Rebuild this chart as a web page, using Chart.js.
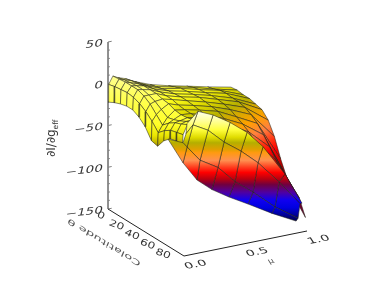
<!DOCTYPE html>
<html>
<head>
<meta charset="utf-8">
<style>
  html, body { margin: 0; padding: 0; background: #fff; }
  canvas { display: block; }
</style>
<script src="https://cdn.jsdelivr.net/npm/chart.js@4/dist/chart.umd.min.js"></script>
</head>
<body>
<canvas id="myChart" width="374" height="299"></canvas>
<script>
// axis ticks
const zTicks = [50, 0, -50, -100, -150];
const zMinorTicks = [40, 30, 20, 10, -10, -20, -30, -40, -60, -70, -80, -90, -110, -120, -130, -140];
const thetaTicks = [0, 20, 40, 60, 80];
const muTicks = ['0.0', '0.5', '1.0'];
const thetaMax = 98;

// far part of the surface: one row of z for each colatitude, one column for each mu
const backMu = [0, 0.005, 0.04, 0.08, 0.14, 0.22, 0.34, 0.49, 0.64, 0.81, 1];
const backTheta = [0, 8, 16, 24, 32, 40, 48, 56, 64, 72, 80, 88, 96];
const backZ = [
    [-22, -1, 8, 5, 2, -4, -11, -17, -22, -28, -34],
    [-18, 1, 9, 7, 4, -2, -9, -14, -19, -26, -33],
    [-15, 2, 10, 8, 5, 0, -7, -11, -17, -23, -34],
    [-13, 3, 10, 9, 7, 1, -5, -10, -16, -22, -34],
    [-13, 2, 10, 9, 7, 2, -4, -9, -15, -23, -36],
    [-17, -1, 7, 7, 7, 2, -3, -8, -15, -23, -38],
    [-24, -6, 2, 4, 5, 2, -3, -9, -16, -25, -46],
    [-36, -13, -6, -1, 4, 0, -4, -10, -18, -29, -61],
    [-38, -22, -14, -6, 1, -1, -5, -11, -22, -35, -83],
    [-27, -15, -7, -4, 0, -1, -7, -15, -26, -44, -101],
    [-20, -10, -2, -1, 1, -1, -10, -19, -31, -54, -109],
    [-18, -8, 1, 3, 3, -2, -12, -24, -38, -65, -116],
    [-18, -6, 5, 6, 6, -2, -15, -29, -46, -78, -135]
];

// near fold of the surface: one column for each colatitude, four mesh nodes in each
const frontTheta = [68, 72, 76, 80, 84, 88, 92, 96];
const frontMu = [
    [0.214, 0.206, 0.181, 0.059],
    [0.278, 0.237, 0.189, 0.156],
    [0.375, 0.334, 0.269, 0.245],
    [0.488, 0.439, 0.39, 0.341],
    [0.601, 0.552, 0.503, 0.454],
    [0.706, 0.665, 0.624, 0.584],
    [0.859, 0.811, 0.778, 0.754],
    [0.972, 0.956, 0.94, 0.924]
];
const frontZ = [
    [-15, -27, -37, -29],
    [0, -15, -40, -58],
    [-5, -22, -56, -79],
    [-15, -37, -66, -91],
    [-28, -49, -84, -101],
    [-46, -64, -98, -111],
    [-81, -89, -118, -125],
    [-117, -117, -134, -137]
];

// colour bands of each sheet, [offset, colour]
const backBands = [
    [0, '#ffff98'], [0.147, '#ffff58'], [0.265, '#ffff20'], [0.382, '#dcd800'], [0.47, '#b8b000'],
    [0.53, '#d8a800'], [0.6, '#ffa000'], [0.676, '#ff8040'], [0.753, '#ff3010'], [0.81, '#ff0000'], [0.91, '#b00000'], [1, '#700030']
];
const edgeBands = [
    [0, '#ffff90'], [0.32, '#ffff50'], [0.66, '#ffff28'], [0.81, '#e8e400'], [0.92, '#b8a800'], [1, '#d89000']
];
const frontBands = [
    [0, '#ffffe8'], [0.09, '#ffff90'], [0.16, '#ffff40'], [0.23, '#e0dc00'], [0.28, '#b4ae00'],
    [0.34, '#e0a000'], [0.37, '#ff9a10'], [0.44, '#ff9050'], [0.5, '#ff4020'], [0.55, '#ff0000'],
    [0.61, '#b80010'], [0.66, '#700040'], [0.73, '#5000a0'], [0.8, '#1000f0'], [0.87, '#0000e0'], [0.94, '#000090'], [1, '#000040']
];

// view of the 3D box on the page
function project(mu, theta, z) {
    const t = theta / thetaMax;
    return {
        x: 108 + 123 * mu + 76 * t,
        y: 209 - 25 * mu + 47 * t - 0.835 * (z + 150)
    };
}

const canvas = document.getElementById('myChart');
const ctx = canvas.getContext('2d');

function bandGradient(x0, y0, x1, y1, bands) {
    const g = ctx.createLinearGradient(x0, y0, x1, y1);
    bands.forEach(b => g.addColorStop(b[0], b[1]));
    return g;
}
const backFill = bandGradient(108, 80.2, 184.5, 231.5, backBands);
const edgeFill = bandGradient(0, 76, 0, 150, edgeBands);
const frontFill = bandGradient(0, 112, 0, 222, frontBands);

const datasets = [];

function addLine(points, color, width) {
    datasets.push({
        data: points,
        showLine: true,
        fill: false,
        borderColor: color,
        borderWidth: width,
        pointRadius: 0,
        tension: 0,
        order: -datasets.length
    });
}

function addCell(a, b, c, d, fill) {
    datasets.push({
        data: [a, b, c, d, a],
        showLine: true,
        fill: 'shape',
        backgroundColor: fill,
        borderColor: 'rgba(30,30,20,0.75)',
        borderWidth: 0.7,
        pointRadius: 0,
        tension: 0,
        order: -datasets.length
    });
}

// axes
const zAxisColor = '#808080';
addLine([project(0, 0, 50), project(0, 0, -150)], zAxisColor, 1);
zTicks.forEach(v => addLine([project(0, 0, v), project(0.03, 0, v)], zAxisColor, 1));
zMinorTicks.forEach(v => addLine([project(0, 0, v), project(0.015, 0, v)], zAxisColor, 1));
addLine([project(0, 0, -150), project(0, thetaMax, -150)], '#222', 1);
addLine([project(0, thetaMax, -150), project(1, thetaMax, -150)], '#222', 1);

// far sheet first, near sheet painted over it
for (let k = 0; k < backTheta.length - 1; k++) {
    for (let i = backMu.length - 2; i >= 0; i--) {
        addCell(
            project(backMu[i], backTheta[k], backZ[k][i]),
            project(backMu[i + 1], backTheta[k], backZ[k][i + 1]),
            project(backMu[i + 1], backTheta[k + 1], backZ[k + 1][i + 1]),
            project(backMu[i], backTheta[k + 1], backZ[k + 1][i]),
            i <= 3 ? edgeFill : backFill
        );
    }
}
for (let j = frontTheta.length - 2; j >= 0; j--) {
    for (let r = 0; r < 3; r++) {
        addCell(
            project(frontMu[j][r], frontTheta[j], frontZ[j][r]),
            project(frontMu[j + 1][r], frontTheta[j + 1], frontZ[j + 1][r]),
            project(frontMu[j + 1][r + 1], frontTheta[j + 1], frontZ[j + 1][r + 1]),
            project(frontMu[j][r + 1], frontTheta[j], frontZ[j][r + 1]),
            frontFill
        );
    }
}

// text laid on the faces of the box, m = [ax, ay, bx, by]
function skewText(c, text, x, y, m, font, align) {
    c.save();
    c.transform(m[0], m[1], m[2], m[3], x, y);
    c.font = font;
    c.textAlign = align;
    c.textBaseline = 'alphabetic';
    c.fillText(text, 0, 0);
    c.restore();
}

const boxLabels = {
    id: 'boxLabels',
    afterDraw(chart) {
        const c = chart.ctx;
        const font = '10px "DejaVu Sans"';
        c.fillStyle = '#333';
        zTicks.forEach(v => {
            const p = project(0, 0, v);
            const name = v < 0 ? '\u2212' + Math.abs(v) : String(v);
            skewText(c, name, p.x - 6, p.y + 4, [1.35, -0.16, -0.25, 1], font, 'right');
        });
        thetaTicks.forEach(v => {
            const p = project(0, v, -150);
            skewText(c, String(v), p.x - 8, p.y + 9, [1.15, 0.42, -0.35, 0.85], font, 'center');
        });
        muTicks.forEach(v => {
            const p = project(Number(v), thetaMax, -150);
            skewText(c, v, p.x + 13, p.y + 11, [1.35, -0.25, 0.5, 0.8], font, 'center');
        });
        c.fillStyle = '#555';
        skewText(c, '\u03bc', 272, 263, [1.1, -0.2, 0.5, 0.85], '8px "DejaVu Sans"', 'center');
        skewText(c, 'Colatitude \u03b8', 105, 240, [-1.4, -0.85, 0.35, -0.8], '8.5px "DejaVu Sans"', 'center');

        // title of the vertical axis, turned a quarter
        c.save();
        c.translate(55, 157);
        c.rotate(-Math.PI / 2);
        c.fillStyle = '#333';
        c.font = '12px "DejaVu Sans"';
        c.textAlign = 'left';
        c.fillText('\u2202I/\u2202g', 0, 0);
        const w = c.measureText('\u2202I/\u2202g').width;
        c.font = '7.5px "DejaVu Sans"';
        c.fillText('eff', w, 2.5);
        c.restore();
    }
};

new Chart(ctx, {
    type: 'scatter',
    data: { datasets: datasets },
    plugins: [boxLabels],
    options: {
        responsive: false,
        animation: false,
        parsing: false,
        normalized: true,
        layout: { padding: 0 },
        events: [],
        scales: {
            x: { type: 'linear', display: false, min: 0, max: 374 },
            y: { type: 'linear', display: false, min: 0, max: 299, reverse: true }
        },
        plugins: {
            legend: { display: false },
            tooltip: { enabled: false }
        }
    }
});
</script>
</body>
</html>
